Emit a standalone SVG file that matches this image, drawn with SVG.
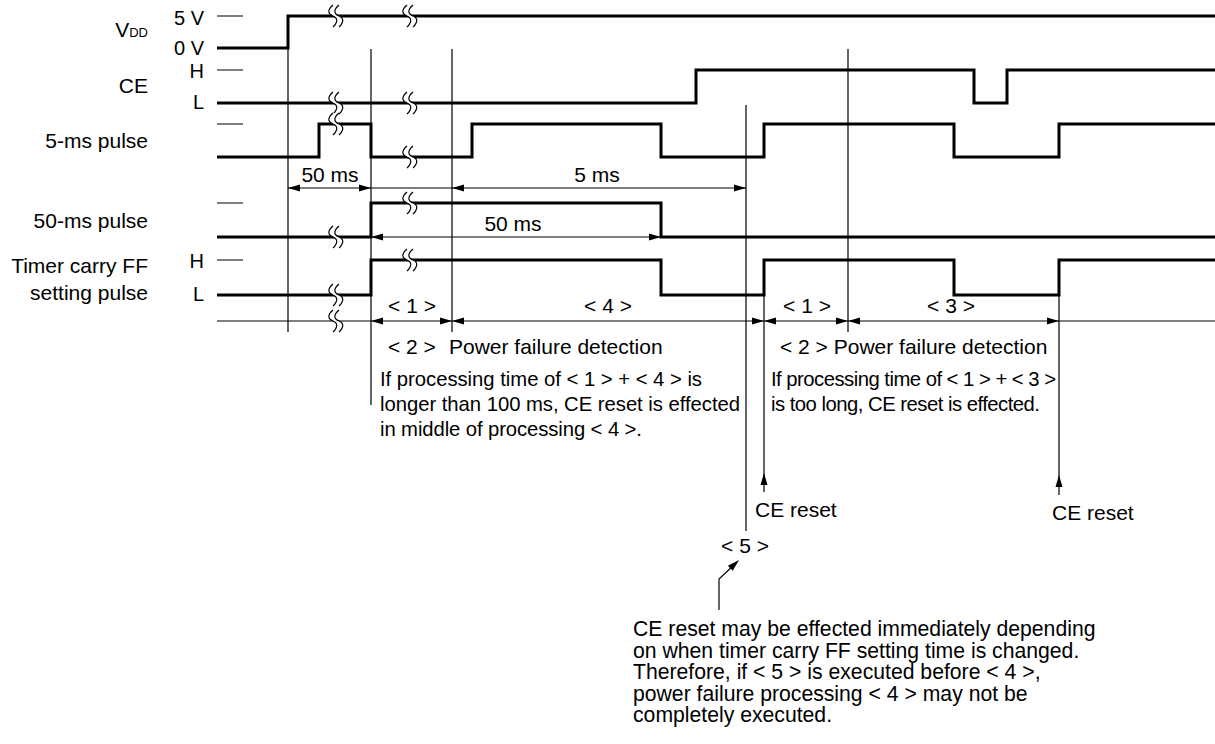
<svg xmlns="http://www.w3.org/2000/svg" xmlns:xlink="http://www.w3.org/1999/xlink" width="1215" height="744" viewBox="0 0 1215 744">
<style>
text{font-family:"Liberation Sans",Arial,sans-serif;font-size:21px;fill:#000}
.s{font-size:20px}
.n{font-size:20.3px}
.b{font-size:21.2px}
.r{text-anchor:end}
.m{text-anchor:middle}
.w{fill:none;stroke:#000;stroke-width:3;stroke-linejoin:miter;stroke-linecap:butt}
.t{fill:none;stroke:#000;stroke-width:1.2}
.ah{fill:#000;stroke:none}
</style>
<defs>
<g id="brk">
<path d="M-3,-11 C-9,-6 -8,-2 -3,0 C2,2 2,6 -3,11 L3,11 C8,6 8,2 3,0 C-2,-2 -3,-6 3,-11 Z" fill="#fff" stroke="none"/>
<path d="M-3,-11 C-9,-6 -8,-2 -3,0 C2,2 2,6 -3,11 M3,-11 C-3,-6 -2,-2 3,0 C8,2 8,6 3,11" fill="none" stroke="#000" stroke-width="1.2"/>
</g>
<path id="aR" class="ah" d="M0,0 L-12,-3.5 L-12,3.5 Z"/>
<path id="aL" class="ah" d="M0,0 L12,-3.5 L12,3.5 Z"/>
<path id="aU" class="ah" d="M0,0 L-3.5,12 L3.5,12 Z"/>
</defs>
<rect width="1215" height="744" fill="#fff"/>

<g id="labels">
<text class="r" x="148" y="37">V<tspan font-size="13">DD</tspan></text>
<text class="r" x="148" y="93">CE</text>
<text class="r" x="148" y="148">5-ms pulse</text>
<text class="r" x="148" y="228">50-ms pulse</text>
<text class="r" x="148" y="273">Timer carry FF</text>
<text class="r" x="148" y="300">setting pulse</text>
<text class="r s" x="204" y="25">5 V</text>
<text class="r s" x="204" y="55">0 V</text>
<text class="r s" x="204" y="78">H</text>
<text class="r s" x="204" y="109">L</text>
<text class="r s" x="204" y="268">H</text>
<text class="r s" x="204" y="301">L</text>
<path class="t" d="M217,16 H243 M217,70 H243 M217,124 H243 M217,203 H243 M217,260 H243"/>
</g>

<g id="connectors">
<path class="t" d="M288,48 V332 M371,49 V405 M452,49 V332 M746,105 V531 M764,295 V492 M848,49 V332 M1059,295 V495"/>
<path class="t" d="M217,321 H1215"/>
<path class="t" d="M288,188 H746"/>
<path class="t" d="M371,237 H661"/>
<use href="#aL" x="288" y="188"/>
<use href="#aR" x="371" y="188"/>
<use href="#aL" x="452" y="188"/>
<use href="#aR" x="746" y="188"/>
<use href="#aL" x="371" y="237"/>
<use href="#aR" x="661" y="237"/>
<use href="#aL" x="371" y="321"/>
<use href="#aR" x="452" y="321"/>
<use href="#aL" x="452" y="321"/>
<use href="#aR" x="764" y="321"/>
<use href="#aL" x="764" y="321"/>
<use href="#aR" x="848" y="321"/>
<use href="#aL" x="848" y="321"/>
<use href="#aR" x="1059" y="321"/>
<use href="#aU" x="764" y="473"/>
<use href="#aU" x="1059" y="475"/>
<path class="t" d="M719,610 V579 L735,564"/>
<use href="#aR" transform="translate(739,560) rotate(-43.5)"/>
<use href="#brk" x="336" y="321"/>
</g>

<g id="sig-vdd">
<path class="w" d="M217,48 H288 V16 H1215"/>
<use href="#brk" x="336" y="16"/>
<use href="#brk" x="410" y="16"/>
</g>
<g id="sig-ce">
<path class="w" d="M217,103 H696 V70 H974 V103 H1007 V70 H1215"/>
<use href="#brk" x="336" y="103"/>
<use href="#brk" x="410" y="103"/>
</g>
<g id="sig-5ms">
<path class="w" d="M217,157 H319 V124 H371 V157 H472 V124 H661 V157 H764 V124 H954 V157 H1059 V124 H1215"/>
<use href="#brk" x="336" y="124"/>
<use href="#brk" x="410" y="157"/>
</g>
<g id="sig-50ms">
<path class="w" d="M217,237 H371 V203 H661 V237 H1215"/>
<use href="#brk" x="336" y="237"/>
<use href="#brk" x="410" y="203"/>
</g>
<g id="sig-timer">
<path class="w" d="M217,295 H371 V260 H661 V295 H764 V260 H954 V295 H1059 V260 H1215"/>
<use href="#brk" x="336" y="295"/>
<use href="#brk" x="410" y="260"/>
</g>

<g id="annotations">
<text class="m" x="330" y="182">50 ms</text>
<text class="m" x="597" y="182">5 ms</text>
<text class="m" x="513" y="231">50 ms</text>
<text class="m" x="412" y="313">&lt; 1 &gt;</text>
<text class="m" x="608" y="313">&lt; 4 &gt;</text>
<text class="m" x="807" y="313">&lt; 1 &gt;</text>
<text class="m" x="951" y="313">&lt; 3 &gt;</text>
<text x="388" y="354">&lt; 2 &gt;</text>
<text x="449" y="354">Power failure detection</text>
<text class="n" x="380" y="386" textLength="322" lengthAdjust="spacing">If processing time of &lt; 1 &gt; + &lt; 4 &gt; is</text>
<text class="n" x="380" y="411" textLength="360" lengthAdjust="spacing">longer than 100 ms, CE reset is effected</text>
<text class="n" x="380" y="436" textLength="262" lengthAdjust="spacing">in middle of processing &lt; 4 &gt;.</text>
<text x="780" y="354">&lt; 2 &gt; Power failure detection</text>
<text class="n" x="771" y="386" textLength="285" lengthAdjust="spacing">If processing time of &lt; 1 &gt; + &lt; 3 &gt;</text>
<text class="n" x="771" y="411" textLength="269" lengthAdjust="spacing">is too long, CE reset is effected.</text>
<text x="755" y="517">CE reset</text>
<text x="1052" y="520">CE reset</text>
<text class="m" x="745" y="553">&lt; 5 &gt;</text>
<text class="b" x="633" y="636">CE reset may be effected immediately depending</text>
<text class="b" x="633" y="658">on when timer carry FF setting time is changed.</text>
<text class="b" x="633" y="679">Therefore, if &lt; 5 &gt; is executed before &lt; 4 &gt;,</text>
<text class="b" x="633" y="701">power failure processing &lt; 4 &gt; may not be</text>
<text class="b" x="633" y="722">completely executed.</text>
</g>
</svg>
